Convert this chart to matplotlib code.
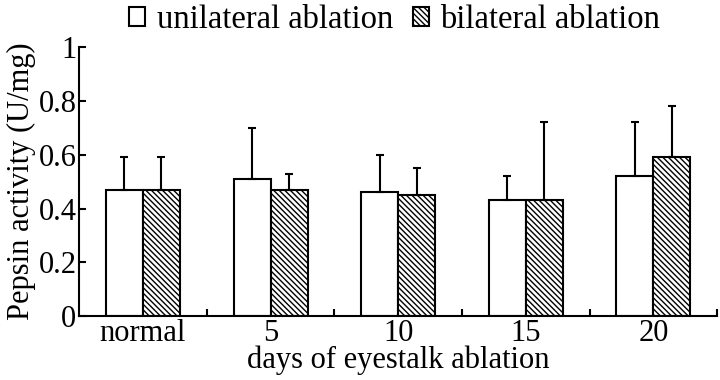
import numpy as np
import matplotlib
matplotlib.use('Agg')
from matplotlib import pyplot as plt
from matplotlib.patches import Patch

plt.rcParams['font.family'] = ['Liberation Serif', 'DejaVu Serif']
plt.rcParams['hatch.linewidth'] = 1.0
plt.rcParams['hatch.color'] = '#3b3040'

categories = ['normal', '5', '10', '15', '20']
unilateral = [0.47, 0.51, 0.46, 0.43, 0.52]
unilateral_sd = [0.12, 0.19, 0.14, 0.09, 0.20]
bilateral = [0.47, 0.47, 0.45, 0.43, 0.59]
bilateral_sd = [0.12, 0.06, 0.10, 0.29, 0.19]
yticks = [0, 0.2, 0.4, 0.6, 0.8, 1]
ytick_labels = ['0', '0.2', '0.4', '0.6', '0.8', '1']

HATCH = '\\' * 6

fig = plt.figure(figsize=(7.2, 3.8), dpi=100)
ax = fig.add_axes([0.110, 0.168, 0.886, 0.708])

x = np.arange(len(categories))
w = 0.29
err_kw = dict(ecolor='black', elinewidth=1.5, capsize=3.2, capthick=1.5)
ax.bar(x - w / 2, unilateral, w, color='white', edgecolor='black', linewidth=1.5,
       yerr=[np.zeros(len(x)), unilateral_sd], error_kw=err_kw, label='unilateral ablation')
ax.bar(x + w / 2, bilateral, w, color='white', edgecolor='black', linewidth=1.5,
       hatch=HATCH, yerr=[np.zeros(len(x)), bilateral_sd], error_kw=err_kw,
       label='bilateral ablation')

ax.set_xlim(-0.5, len(categories) - 0.5)
ax.set_ylim(0, 1)
ax.set_yticks(yticks)
ax.set_yticklabels(ytick_labels)
ax.set_xticks(x)
ax.set_xticklabels(categories)
ax.set_xticks(list(x + 0.5), minor=True)
ax.tick_params(axis='x', which='major', length=0, labelsize=22, pad=2)
ax.tick_params(axis='x', which='minor', direction='in', length=5, width=1.5)
ax.tick_params(axis='y', direction='in', length=5, width=1.5, labelsize=22, pad=2)

for s in ['top', 'right']:
    ax.spines[s].set_visible(False)
for s in ['left', 'bottom']:
    ax.spines[s].set_linewidth(1.5)

ax.set_xlabel('days of eyestalk ablation', fontsize=22, labelpad=-2)
ax.set_ylabel('Pepsin activity (U/mg)', fontsize=22, labelpad=2)

handles = [Patch(facecolor='white', edgecolor='black', linewidth=1.5),
           Patch(facecolor='white', edgecolor='black', linewidth=1.5, hatch=HATCH)]
fig.legend(handles, ['unilateral ablation', 'bilateral ablation'], loc='upper center',
           bbox_to_anchor=(0.548, 1.065), ncol=2, frameon=False, fontsize=23.5,
           handlelength=0.5, handleheight=0.5, handletextpad=0.35, columnspacing=0.6)

fig.savefig('out.png', dpi=100)
